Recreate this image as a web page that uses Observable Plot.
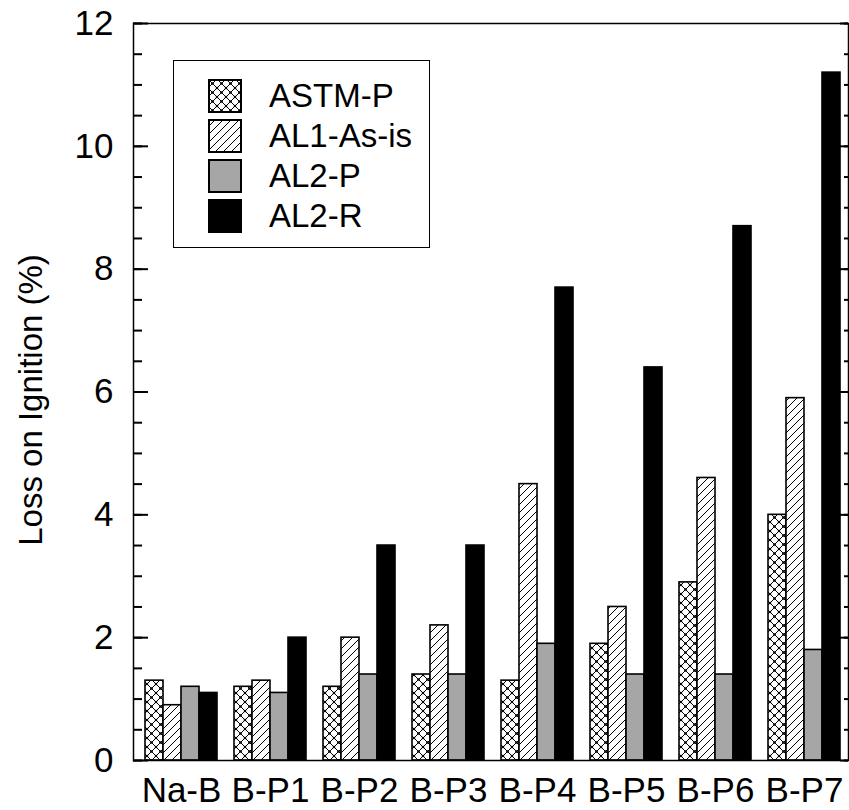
<!DOCTYPE html>
<html>
<head>
<meta charset="utf-8">
<script src="https://cdn.jsdelivr.net/npm/d3@7"></script>
<script src="https://cdn.jsdelivr.net/npm/@observablehq/plot@0.6"></script>
<style>
  html, body { margin: 0; padding: 0; background: #fff; }
  #wrap { position: relative; width: 849px; height: 810px; font-family: "Liberation Sans", Arial, sans-serif; overflow: hidden; }
  #wrap > svg, #wrap > figure { position: absolute; left: 0; top: 0; margin: 0; }
  #legend { position: absolute; left: 173px; top: 60px; width: 257px; height: 188px; border: 1.5px solid #000; background: #fff; box-sizing: border-box; }
  .row { position: absolute; left: 34px; height: 34px; display: flex; align-items: center; font-size: 33px; color: #000; }
  .row svg { margin-right: 27px; }
  #ytitle { position: absolute; left: 31px; top: 400px; transform: translate(-50%, -50%) rotate(-90deg); font-size: 33px; white-space: nowrap; color: #000; }
</style>
</head>
<body>
<div id="wrap"></div>
<script>
// ---- data ----
const groups = ["Na-B", "B-P1", "B-P2", "B-P3", "B-P4", "B-P5", "B-P6", "B-P7"];
const series = ["ASTM-P", "AL1-As-is", "AL2-P", "AL2-R"];
const astmP  = [1.3, 1.2, 1.2, 1.4, 1.3, 1.9, 2.9, 4.0];
const al1    = [0.9, 1.3, 2.0, 2.2, 4.5, 2.5, 4.6, 5.9];
const al2P   = [1.2, 1.1, 1.4, 1.4, 1.9, 1.4, 1.4, 1.8];
const al2R   = [1.1, 2.0, 3.5, 3.5, 7.7, 6.4, 8.7, 11.2];
const yMajorTicks = [0, 2, 4, 6, 8, 10, 12];
const yMinorTicks = d3.range(0, 12.01, 0.5);
const yTitle = "Loss on Ignition (%)";

const fills = ["url(#crossPat)", "url(#hatchPat)", "#a6a6a6", "#000000"];
const valuesBySeries = [astmP, al1, al2P, al2R];
const data = [];
groups.forEach((g, gi) => series.forEach((s, si) => data.push({group: g, series: s, value: valuesBySeries[si][gi]})));

const wrap = document.getElementById("wrap");

// pattern defs
const ns = "http://www.w3.org/2000/svg";
const defsSvg = document.createElementNS(ns, "svg");
defsSvg.setAttribute("width", "0");
defsSvg.setAttribute("height", "0");
defsSvg.style.position = "absolute";
defsSvg.innerHTML = `
<defs>
  <pattern id="crossPat" patternUnits="userSpaceOnUse" width="9" height="9">
    <rect width="9" height="9" fill="#fff"/>
    <path d="M0,0L9,9M9,0L0,9" stroke="#000" stroke-width="1"/>
    <circle cx="4.5" cy="4.5" r="1.3" fill="#000"/>
    <circle cx="0" cy="0" r="1.3" fill="#000"/>
    <circle cx="9" cy="0" r="1.3" fill="#000"/>
    <circle cx="0" cy="9" r="1.3" fill="#000"/>
    <circle cx="9" cy="9" r="1.3" fill="#000"/>
  </pattern>
  <pattern id="hatchPat" patternUnits="userSpaceOnUse" width="8" height="8">
    <rect width="8" height="8" fill="#fff"/>
    <path d="M0,8L8,0M-2,2L2,-2M6,10L10,6" stroke="#000" stroke-width="1"/>
  </pattern>
</defs>`;
wrap.appendChild(defsSvg);

const font = "Liberation Sans, Arial, sans-serif";
const W = 849, H = 810, ML = 133, MR = 1, MT = 23, MB = 50;
const frameW = W - ML - MR;

// bars plot (faceted by group)
const bars = Plot.plot({
  width: W,
  height: H,
  marginLeft: ML,
  marginRight: 0,
  marginTop: MT,
  marginBottom: MB,
  style: {fontFamily: font, background: "transparent", color: "#000"},
  fx: {domain: groups, range: [ML, 852], paddingInner: 0.19, paddingOuter: 0.095, label: null},
  x: {domain: series, padding: 0, axis: null},
  y: {domain: [0, 12], axis: null},
  color: {type: "ordinal", domain: series, range: fills},
  marks: [
    Plot.barY(data, {fx: "group", x: "series", y: "value", fill: "series", stroke: "#000", strokeWidth: 1.6}),
    Plot.axisFx({anchor: "bottom", tickSize: 0, tickPadding: 17, fontSize: 35, label: null})
  ]
});
wrap.appendChild(bars);

// axes/frame overlay
const fmt = d => String(d);
const axes = Plot.plot({
  width: W,
  height: H,
  marginLeft: ML,
  marginRight: MR,
  marginTop: MT,
  marginBottom: MB,
  style: {fontFamily: font, background: "transparent", color: "#000"},
  x: {domain: [0, 1], axis: null},
  y: {domain: [0, 12], axis: null},
  marks: [
    // inward ticks, left side
    Plot.tickY(yMinorTicks, {y: d => d, insetRight: frameW - 9, stroke: "#000", strokeWidth: 2}),
    Plot.tickY(yMajorTicks, {y: d => d, insetRight: frameW - 15, stroke: "#000", strokeWidth: 2}),
    // inward ticks, right side
    Plot.tickY(yMinorTicks, {y: d => d, insetLeft: frameW - 4, stroke: "#000", strokeWidth: 2}),
    Plot.tickY(yMajorTicks, {y: d => d, insetLeft: frameW - 8, stroke: "#000", strokeWidth: 2}),
    Plot.axisY(yMajorTicks, {anchor: "left", tickSize: 0, tickPadding: 20, fontSize: 35, tickFormat: fmt, label: null}),
    Plot.frame({stroke: "#000", strokeWidth: 1.5})
  ]
});
wrap.appendChild(axes);

// legend
const legend = document.createElement("div");
legend.id = "legend";
series.forEach((s, i) => {
  const row = document.createElement("div");
  row.className = "row";
  row.style.top = (18 + i * 40) + "px";
  row.innerHTML = `<svg width="34" height="34"><rect x="1" y="1" width="32" height="32" fill="${fills[i]}" stroke="#000" stroke-width="2"/></svg><span>${s}</span>`;
  legend.appendChild(row);
});
wrap.appendChild(legend);

// y title
const yt = document.createElement("div");
yt.id = "ytitle";
yt.textContent = yTitle;
wrap.appendChild(yt);
</script>
</body>
</html>
